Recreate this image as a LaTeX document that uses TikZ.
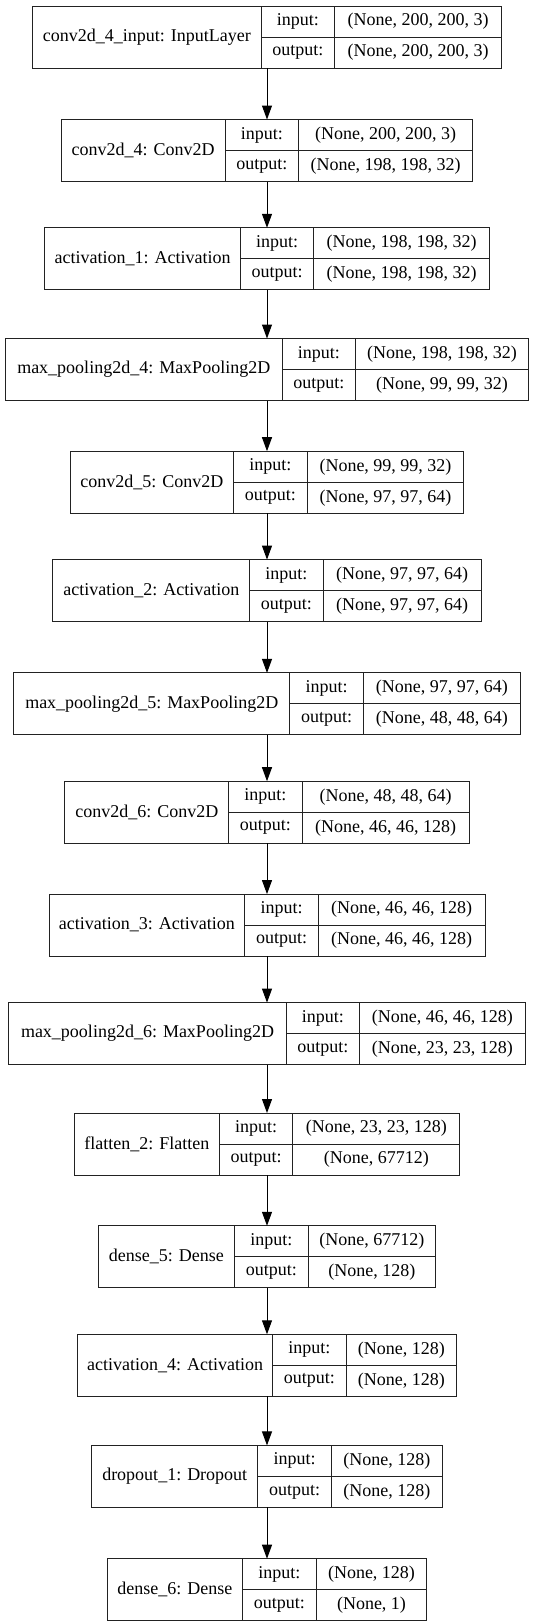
\documentclass[tikz,border=0pt]{standalone}
\usepackage{fontspec}
\setmainfont{Liberation Serif}
\usepackage{tikz}
\usetikzlibrary{arrows.meta,positioning,calc}
\definecolor{edgegray}{HTML}{222222}

% one keras record: name, top, label width, value width, label, input shape, output shape
\newcommand{\kerasrow}[7]{%
 \node[lyr,minimum width=#3pt,anchor=north west] (#1) at ({267-(#3+73.5+#4)/2},-#2) {#5};
 \node[prt,anchor=north west] (#1-pi) at (#1.north east) {input:};
 \node[prt,anchor=south west] (#1-po) at (#1.south east) {output:};
 \node[val,minimum width=#4pt,anchor=north west] (#1-vi) at (#1-pi.north east) {#6};
 \node[val,minimum width=#4pt,anchor=north west] (#1-vo) at (#1-po.north east) {#7};
 \coordinate (#1-top) at (267,-#2);
 \coordinate (#1-bot) at (267,-#2-62);
}

\begin{document}
\begin{tikzpicture}[x=1pt,y=1pt,
 font=\fontsize{18}{20}\selectfont,
 box/.style={draw=edgegray,line width=1pt,outer sep=0pt,inner sep=0pt,align=center},
 lyr/.style={box,minimum height=62pt},
 prt/.style={box,minimum height=31pt,minimum width=73.5pt},
 val/.style={box,minimum height=31pt},
 arw/.style={draw=black,line width=1pt,-{Triangle[length=14pt,width=10pt]}}]
\useasboundingbox (0,0) rectangle (535,-1623);
\kerasrow{inp}{6.1}{228.7}{166.9}{conv2d\_4\_input: InputLayer}{(None, 200, 200, 3)}{(None, 200, 200, 3)}
\kerasrow{c4}{119.5}{163.9}{174.1}{conv2d\_4: Conv2D}{(None, 200, 200, 3)}{(None, 198, 198, 32)}
\kerasrow{a1}{227.8}{195.6}{175.5}{activation\_1: Activation}{(None, 198, 198, 32)}{(None, 198, 198, 32)}
\kerasrow{p4}{338.5}{276.5}{173.0}{max\_pooling2d\_4: MaxPooling2D}{(None, 198, 198, 32)}{(None, 99, 99, 32)}
\kerasrow{c5}{451.2}{163.5}{156.7}{conv2d\_5: Conv2D}{(None, 99, 99, 32)}{(None, 97, 97, 64)}
\kerasrow{a2}{559.6}{196.6}{158.0}{activation\_2: Activation}{(None, 97, 97, 64)}{(None, 97, 97, 64)}
\kerasrow{p5}{672.9}{276.1}{157.0}{max\_pooling2d\_5: MaxPooling2D}{(None, 97, 97, 64)}{(None, 48, 48, 64)}
\kerasrow{c6}{781.2}{163.8}{166.9}{conv2d\_6: Conv2D}{(None, 48, 48, 64)}{(None, 46, 46, 128)}
\kerasrow{a3}{894.1}{195.9}{166.6}{activation\_3: Activation}{(None, 46, 46, 128)}{(None, 46, 46, 128)}
\kerasrow{p6}{1002.6}{277.2}{165.5}{max\_pooling2d\_6: MaxPooling2D}{(None, 46, 46, 128)}{(None, 23, 23, 128)}
\kerasrow{fl}{1113.0}{145.1}{166.9}{flatten\_2: Flatten}{(None, 23, 23, 128)}{(None, 67712)}
\kerasrow{d5}{1225.8}{136.2}{127.6}{dense\_5: Dense}{(None, 67712)}{(None, 128)}
\kerasrow{a4}{1334.3}{195.2}{110.5}{activation\_4: Activation}{(None, 128)}{(None, 128)}
\kerasrow{dr}{1445.4}{166.2}{111.0}{dropout\_1: Dropout}{(None, 128)}{(None, 128)}
\kerasrow{d6}{1558.7}{135.5}{110.6}{dense\_6: Dense}{(None, 128)}{(None, 1)}
% flow
\draw[arw] (inp-bot) -- (c4-top);
\draw[arw] (c4-bot) -- (a1-top);
\draw[arw] (a1-bot) -- (p4-top);
\draw[arw] (p4-bot) -- (c5-top);
\draw[arw] (c5-bot) -- (a2-top);
\draw[arw] (a2-bot) -- (p5-top);
\draw[arw] (p5-bot) -- (c6-top);
\draw[arw] (c6-bot) -- (a3-top);
\draw[arw] (a3-bot) -- (p6-top);
\draw[arw] (p6-bot) -- (fl-top);
\draw[arw] (fl-bot) -- (d5-top);
\draw[arw] (d5-bot) -- (a4-top);
\draw[arw] (a4-bot) -- (dr-top);
\draw[arw] (dr-bot) -- (d6-top);
\end{tikzpicture}
\end{document}
